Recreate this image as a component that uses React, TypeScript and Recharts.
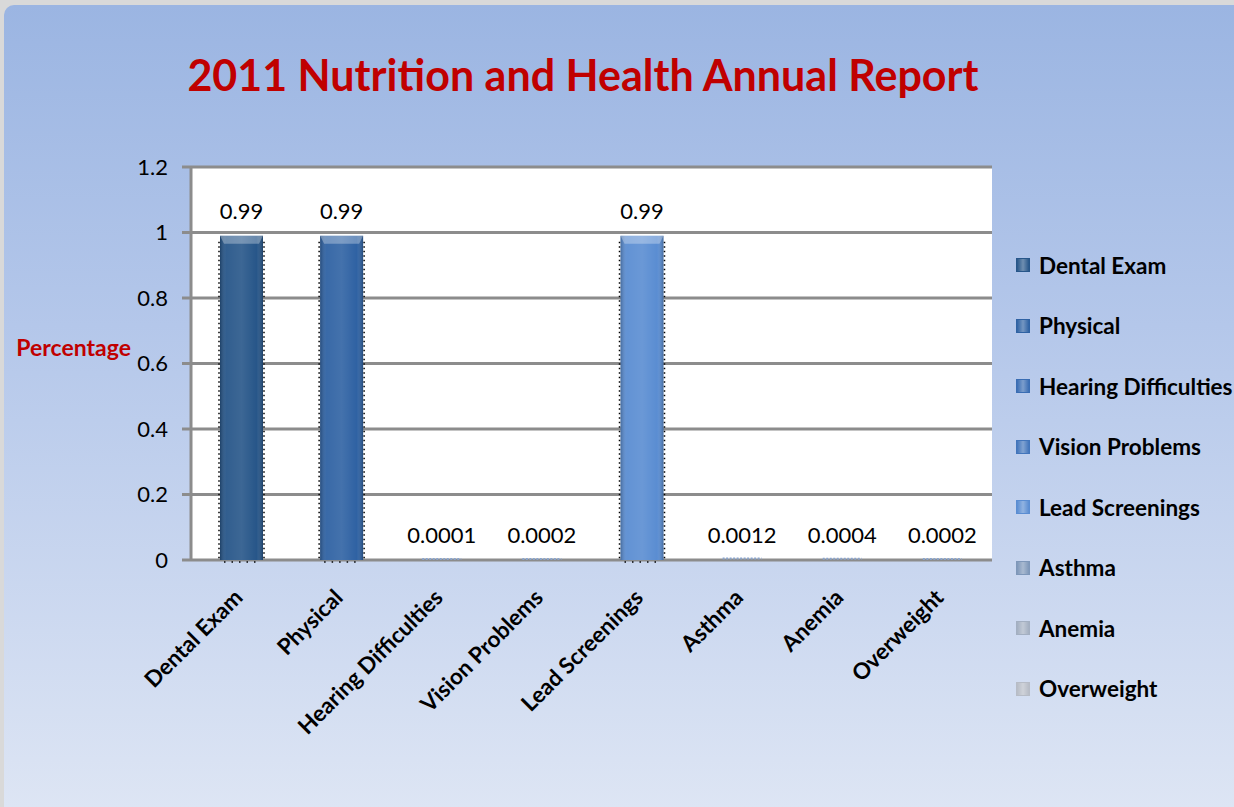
import { BarChart, Bar, XAxis, YAxis, CartesianGrid, Cell, LabelList, Legend, Label } from "recharts";

const categories = [
  "Dental Exam",
  "Physical",
  "Hearing Difficulties",
  "Vision Problems",
  "Lead Screenings",
  "Asthma",
  "Anemia",
  "Overweight",
];
const values = [0.99, 0.99, 0.0001, 0.0002, 0.99, 0.0012, 0.0004, 0.0002];
const colors = ["#275689", "#2f62a3", "#3a6db3", "#4275bb", "#5a8dd2", "#7e97b9", "#a3afc1", "#b7bcc6"];
const yTicks = [0, 0.2, 0.4, 0.6, 0.8, 1, 1.2];
const edgeTicks = [0, 1, 2, 3, 4, 5, 6, 7, 8];

const FONT = "Lato, 'Open Sans', sans-serif";

const data = categories.map((name, i) => ({ name, value: values[i] }));

function CylinderBar(props: any) {
  const { x, y, width, height, fill, index } = props;
  const id = `shine-${index}`;
  const h = Math.max(height, 0);
  const bevel = Math.min(8, h / 2);
  return (
    <g>
      <defs>
        <linearGradient id={id} x1="0" y1="0" x2="1" y2="0">
          <stop offset="0%" stopColor="#000" stopOpacity={0.25} />
          <stop offset="15%" stopColor="#fff" stopOpacity={0.05} />
          <stop offset="50%" stopColor="#fff" stopOpacity={0.1} />
          <stop offset="85%" stopColor="#fff" stopOpacity={0.0} />
          <stop offset="100%" stopColor="#000" stopOpacity={0.25} />
        </linearGradient>
      </defs>
      {h > 1 ? (
        <>
          <rect x={x} y={y} width={width} height={h} fill={fill} />
          <rect x={x} y={y} width={width} height={h} fill={`url(#${id})`} />
          <polygon
            points={`${x},${y} ${x + width},${y} ${x + width - 4},${y + bevel} ${x + 4},${y + bevel}`}
            fill="#fff"
            fillOpacity={0.3}
          />
          <line x1={x - 1} y1={y + 6} x2={x - 1} y2={y + h} stroke="#000" strokeWidth={1.5} strokeDasharray="1.5 3" />
          <line x1={x + width + 1} y1={y + 6} x2={x + width + 1} y2={y + h} stroke="#000" strokeWidth={1.5} strokeDasharray="1.5 3" />
          <line x1={x + 4} y1={y + h + 2} x2={x + width - 4} y2={y + h + 2} stroke="#000" strokeWidth={1.5} strokeDasharray="1.5 6" />
        </>
      ) : (
        <line x1={x + 2} y1={y - 1} x2={x + width - 2} y2={y - 1} stroke="#8aa4cc" strokeWidth={2} strokeDasharray="2 1.5" />
      )}
    </g>
  );
}

function CategoryTick(props: any) {
  const { x, y, payload } = props;
  const ax = x + 3;
  const ay = y + 31;
  return (
    <text
      x={ax}
      y={ay}
      transform={`rotate(-45, ${ax}, ${ay})`}
      textAnchor="end"
      fontFamily={FONT}
      fontWeight={700}
      fontSize={22.5}
      fill="#000"
    >
      {payload.value}
    </text>
  );
}

function LegendBox() {
  return (
    <div style={{ fontFamily: FONT }}>
      {categories.map((c, i) => (
        <div key={c} style={{ height: 60.5, display: "flex", alignItems: "center" }}>
          <span
            style={{
              width: 12,
              height: 12,
              marginRight: 9,
              background: `linear-gradient(90deg, ${colors[i]}, #ffffff55 50%, ${colors[i]})`,
              backgroundColor: colors[i],
              border: `1px solid ${colors[i]}`,
              display: "inline-block",
            }}
          />
          <span style={{ fontSize: 22.5, fontWeight: 700, color: "#000", whiteSpace: "nowrap" }}>{c}</span>
        </div>
      ))}
    </div>
  );
}

export default function App() {
  return (
    <div
      style={{
        position: "absolute",
        left: 0,
        top: 0,
        width: 1234,
        height: 807,
        background: "#d9d9d9",
        overflow: "hidden",
      }}
    >
      <div
        style={{
          position: "absolute",
          left: 4,
          top: 5,
          width: 1230,
          height: 802,
          borderTopLeftRadius: 10,
          background: "linear-gradient(180deg, #9bb5e2 0%, #b4c7ea 40%, #dde5f4 100%)",
        }}
      />
      <div
        style={{
          position: "absolute",
          left: 0,
          top: 47,
          width: 1166,
          textAlign: "center",
          fontFamily: FONT,
          fontWeight: 700,
          fontSize: 43,
          color: "#c00000",
          lineHeight: "56px",
        }}
      >
        2011 Nutrition and Health Annual Report
      </div>
      <div style={{ position: "absolute", left: 0, top: 0 }}>
        <BarChart width={1234} height={807} data={data} margin={{ top: 167, right: 12, bottom: 7, left: 131 }}>
          <CartesianGrid vertical={false} horizontal stroke="#8c8c8c" strokeWidth={3} fill="#ffffff" />
          <XAxis
            xAxisId="edges"
            type="number"
            domain={[0, 8]}
            ticks={edgeTicks}
            tick={false}
            height={0}
            tickSize={9}
            axisLine={{ stroke: "#8c8c8c", strokeWidth: 3 }}
            tickLine={{ stroke: "#8c8c8c", strokeWidth: 3 }}
          />
          <XAxis
            xAxisId="cat"
            dataKey="name"
            axisLine={false}
            tickLine={false}
            interval={0}
            height={240}
            tick={<CategoryTick />}
          />
          <YAxis
            domain={[0, 1.2]}
            ticks={yTicks}
            width={60}
            interval={0}
            tickSize={9}
            axisLine={{ stroke: "#8c8c8c", strokeWidth: 3 }}
            tickLine={{ stroke: "#8c8c8c", strokeWidth: 3 }}
            tick={{ fill: "#000", fontSize: 22, fontFamily: FONT }}
            tickMargin={14}
          >
            <Label
              value="Percentage"
              position="left"
              offset={0}
              dy={-16}
              fill="#c00000"
              fontWeight={700}
              fontSize={23}
              fontFamily={FONT}
            />
          </YAxis>
          <Legend
            layout="vertical"
            verticalAlign="top"
            align="right"
            content={<LegendBox />}
            wrapperStyle={{ left: 1016, top: 235, width: 230 }}
          />
          <Bar
            dataKey="value"
            xAxisId="cat"
            barSize={43}
            isAnimationActive={false}
            shape={<CylinderBar />}
          >
            {data.map((d, i) => (
              <Cell key={d.name} fill={colors[i]} />
            ))}
            <LabelList
              dataKey="value"
              position="top"
              offset={17}
              fill="#000"
              fontSize={22}
              fontFamily={FONT}
            />
          </Bar>
        </BarChart>
      </div>
    </div>
  );
}
